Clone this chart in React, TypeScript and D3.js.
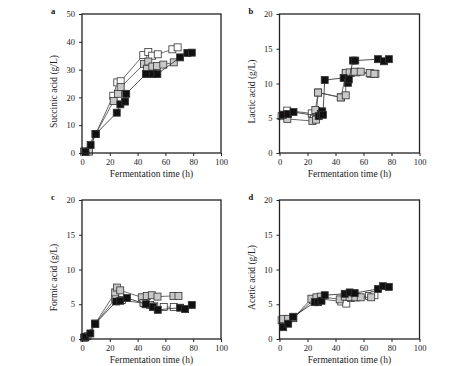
import { useEffect, useRef } from 'react'
import * as d3 from 'd3'

type Pt = [number, number]

const xTicks = [0, 20, 40, 60, 80, 100]
const succinicTicks = [0, 10, 20, 30, 40, 50]
const acidTicks = [0, 5, 10, 15, 20]

// succinic acid (a)
const succinicBlack: Pt[] = [[2.5, 0.5], [6.2, 2.9], [9.8, 6.8], [25, 14.5], [27.6, 17.5], [31, 18.5], [31.8, 21.3], [46, 28.4], [50.8, 28.4], [54.2, 28.4], [70.6, 34.4], [75.8, 36.0], [79, 36.1]]
const succinicGray: Pt[] = [[3, 0.5], [5, 0.5], [9.8, 6.8], [22.8, 18.7], [25.9, 21.3], [27.8, 23.7], [44.6, 32.0], [47.7, 32.9], [46.8, 30.3], [50.6, 31.1], [54, 31.3], [58.5, 31.8], [66, 32.6]]
const succinicWhite: Pt[] = [[1.5, 0.5], [9.8, 6.8], [22.5, 20.6], [25.4, 25.4], [27.8, 25.8], [44.1, 35.2], [47.7, 36.3], [50.5, 35.0], [54.5, 35.5], [65, 37.3], [68.8, 38.0]]

// lactic acid (b)
const lacticBlack: Pt[] = [[2.5, 5.5], [6, 5.6], [10, 5.9], [28, 5.3], [29.5, 5.6], [30.5, 6.0], [31, 5.5], [32.3, 10.5], [45.8, 10.8], [48.9, 10.1], [49.5, 10.6], [52.5, 13.3], [54.1, 13.3], [70.3, 13.5], [74.6, 13.2], [78.1, 13.5]]
const lacticGray: Pt[] = [[2.6, 5.5], [5.6, 4.9], [23.5, 4.6], [26, 4.8], [25.6, 6.2], [27.6, 8.7], [43.7, 8.0], [47.3, 8.3], [47.3, 11.5], [50.1, 11.6], [53.7, 11.7], [58, 11.7], [64.4, 11.5], [67.8, 11.4]]
const lacticWhite: Pt[] = [[1.5, 5.3], [5.5, 6.1], [23, 5.7], [24.5, 5.0], [26.5, 6.0], [27.6, 8.7], [44, 8.0], [47.3, 11.4], [51, 11.5], [55, 11.6], [65, 11.4], [68.5, 11.4]]

// formic acid (c)
const formicBlack: Pt[] = [[2.5, 0.3], [6, 0.8], [9.5, 2.2], [24.6, 5.4], [27.5, 5.5], [32.3, 5.9], [46, 5.0], [51, 4.6], [54.5, 4.2], [70.6, 4.5], [74.2, 4.3], [79, 4.9]]
const formicGray: Pt[] = [[2, 0.2], [4, 0.4], [9.5, 2.2], [23.9, 6.7], [25.1, 7.4], [27.5, 7.0], [43, 6.0], [44.2, 5.2], [46.6, 6.2], [50.2, 6.3], [54.3, 6.1], [65.8, 6.2], [69.4, 6.2]]
const formicWhite: Pt[] = [[1.5, 0.2], [9.5, 2.2], [23.9, 5.8], [28.7, 5.6], [45.4, 5.1], [49, 4.9], [52, 4.7], [58.8, 4.6], [66, 4.6]]

// acetic acid (d)
const aceticBlack: Pt[] = [[2.6, 1.7], [6.2, 2.2], [9.8, 3.2], [25.2, 5.3], [27.6, 5.3], [30, 5.5], [32.3, 6.3], [46.6, 6.5], [50.1, 6.7], [53.7, 6.6], [70.3, 7.2], [73.9, 7.6], [78.1, 7.5]]
const aceticGray: Pt[] = [[2.6, 2.9], [6.2, 2.9], [9.8, 3.0], [22.8, 5.8], [26.4, 6.0], [29.5, 6.1], [43, 5.7], [46.6, 6.1], [50.1, 6.05], [54.2, 6.0], [58, 6.0], [65.5, 6.0]]
const aceticWhite: Pt[] = [[1.5, 2.7], [9.8, 3.0], [24, 5.6], [28, 5.8], [44.1, 5.4], [47.7, 5.1], [51, 5.9], [55, 6.0], [64, 6.2], [67.8, 6.3]]

const FONT = '"Liberation Serif", "Times New Roman", serif'

const panels = [
  { label: 'a', title: 'Succinic acid (g/L)', yMax: 50, yTicks: succinicTicks, left: 82, top: 14, w: 139, h: 139, white: succinicWhite, gray: succinicGray, black: succinicBlack },
  { label: 'b', title: 'Lactic acid (g/L)', yMax: 20, yTicks: acidTicks, left: 279.5, top: 14, w: 140, h: 139, white: lacticWhite, gray: lacticGray, black: lacticBlack },
  { label: 'c', title: 'Formic acid (g/L)', yMax: 20, yTicks: acidTicks, left: 82, top: 200, w: 139, h: 139, white: formicWhite, gray: formicGray, black: formicBlack },
  { label: 'd', title: 'Acetic acid (g/L)', yMax: 20, yTicks: acidTicks, left: 279.5, top: 200, w: 140, h: 139, white: aceticWhite, gray: aceticGray, black: aceticBlack },
]

const styles = [
  { key: 'white', fill: '#ffffff', line: '#444' },
  { key: 'gray', fill: '#c8c8c8', line: '#444' },
  { key: 'black', fill: '#111111', line: '#222' },
] as const

export default function App() {
  const ref = useRef<SVGSVGElement>(null)

  useEffect(() => {
    const svg = d3.select(ref.current)
    svg.selectAll('*').remove()
    const size = 7

    panels.forEach((p) => {
      const x = d3.scaleLinear().domain([0, 100]).range([p.left, p.left + p.w])
      const y = d3.scaleLinear().domain([0, p.yMax]).range([p.top + p.h, p.top])
      const g = svg.append('g')

      styles.forEach((s) => {
        const pts = p[s.key] as Pt[]
        const line = d3.line<Pt>().x((d) => x(d[0])).y((d) => y(d[1]))
        g.append('path')
          .attr('d', line(pts))
          .attr('fill', 'none')
          .attr('stroke', s.line)
          .attr('stroke-width', 0.8)
        g.selectAll(null)
          .data(pts)
          .enter().append('rect')
          .attr('x', (d) => x(d[0]) - size / 2)
          .attr('y', (d) => y(d[1]) - size / 2)
          .attr('width', size)
          .attr('height', size)
          .attr('fill', s.fill)
          .attr('stroke', '#333')
          .attr('stroke-width', 0.8)
      })

      g.append('rect')
        .attr('x', p.left)
        .attr('y', p.top)
        .attr('width', p.w)
        .attr('height', p.h)
        .attr('fill', 'none')
        .attr('stroke', '#222')
        .attr('stroke-width', 1.3)

      const yAxis = g.append('g')
        .attr('transform', `translate(${p.left},0)`)
        .call(d3.axisLeft(y).tickValues(p.yTicks).tickSize(3).tickPadding(4))
      const xAxis = g.append('g')
        .attr('transform', `translate(0,${p.top + p.h})`)
        .call(d3.axisBottom(x).tickValues(xTicks).tickSize(3).tickPadding(3))
      ;[yAxis, xAxis].forEach((a) => {
        a.select('.domain').remove()
        a.attr('font-family', FONT).attr('font-size', 8.5)
        a.selectAll('line').attr('stroke', '#222').attr('stroke-width', 1)
        a.selectAll('text').attr('fill', '#222')
      })

      g.append('text')
        .attr('x', p.left + p.w / 2)
        .attr('y', p.top + p.h + 24)
        .attr('text-anchor', 'middle')
        .attr('font-family', FONT)
        .attr('font-size', 9.5)
        .attr('fill', '#222')
        .text('Fermentation time (h)')

      g.append('text')
        .attr('transform', `translate(${p.left - 25},${p.top + p.h / 2 + 8}) rotate(-90)`)
        .attr('text-anchor', 'middle')
        .attr('font-family', FONT)
        .attr('font-size', 9.5)
        .attr('fill', '#222')
        .text(p.title)

      g.append('text')
        .attr('x', p.left - 31)
        .attr('y', p.top)
        .attr('font-family', FONT)
        .attr('font-size', 8.5)
        .attr('font-weight', 700)
        .attr('fill', '#111')
        .text(p.label)
    })
  }, [])

  return <svg ref={ref} width={474} height={366} style={{ position: 'absolute', left: 0, top: 0, background: '#fff' }} />
}
